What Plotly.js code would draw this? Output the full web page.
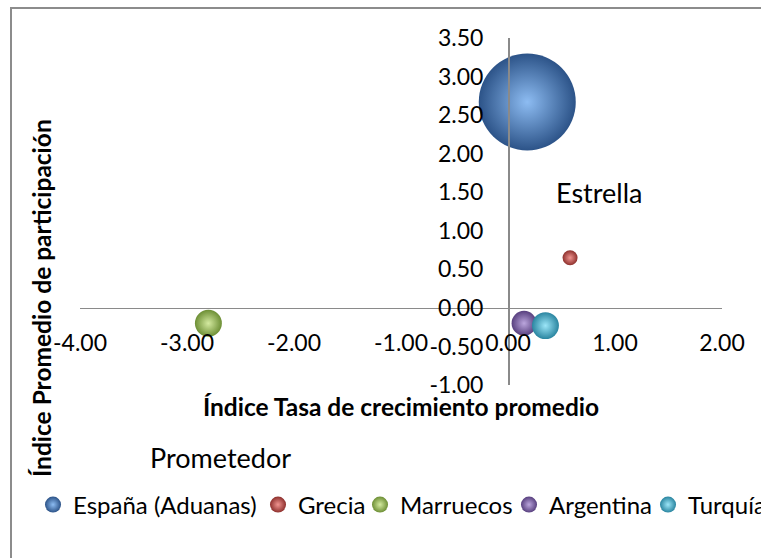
<!DOCTYPE html>
<html>
<head>
<meta charset="utf-8">
<script src="https://cdn.plot.ly/plotly-3.0.1.min.js"></script>
<style>html,body{margin:0;padding:0;background:#fff;}#chart{width:761px;height:558px;}</style>
</head>
<body>
<div id="chart"></div>
<script>
// ---- data ----
var countries = ["España (Aduanas)", "Grecia", "Marruecos", "Argentina", "Turquía"];
var growthIndex = [0.18, 0.58, -2.80, 0.15, 0.35];          // x
var shareIndex = [2.67, 0.65, -0.20, -0.20, -0.23];          // y
var bubbleSize = [1000, 24, 77, 66, 77];
var edgeColors = ["#2c5388", "#8e302d", "#6d8f35", "#58407f", "#2a85a0"];
var centerColors = ["#8dbcf2", "#f09490", "#d4eaa0", "#bba6dd", "#9ce6f8"];
var xTicks = [-4, -3, -2, -1, 0, 1, 2];
var xTickLabels = ["-4.00", "-3.00", "-2.00", "-1.00", "0.00", "1.00", "2.00"];
var yTicks = [-1, -0.5, 0, 0.5, 1, 1.5, 2, 2.5, 3, 3.5];
var yTickLabels = ["-1.00", "-0.50", "0.00", "0.50", "1.00", "1.50", "2.00", "2.50", "3.00", "3.50"];

var xRange = [-4, 2];
var yRange = [-1, 3.5];

var font = "Lato, 'Open Sans', sans-serif";
var sizeref = 0.2126;
var legendIds = ["legend", "legend2", "legend3", "legend4", "legend5"];
var legendLeftPx = [33, 258, 360, 509, 648];

var traces = countries.map(function (c, i) {
  return {
    type: "scatter",
    mode: "markers",
    name: c,
    legend: legendIds[i],
    x: [growthIndex[i]],
    y: [shareIndex[i]],
    cliponaxis: false,
    marker: {
      size: [bubbleSize[i]],
      sizemode: "area",
      sizeref: sizeref,
      opacity: 1,
      color: edgeColors[i],
      gradient: { type: "radial", color: centerColors[i] },
      line: { width: 0 }
    },
    hoverinfo: "name+x+y"
  };
});

var axisGray = "#8a8a8a";
var mL = 80, mR = 39, mT = 38, mB = 173;
var plotW = 761 - mL - mR, plotH = 558 - mT - mB;

var layout = {
  width: 761,
  height: 558,
  margin: { l: mL, r: mR, t: mT, b: mB, pad: 0, autoexpand: false },
  paper_bgcolor: "#ffffff",
  plot_bgcolor: "#ffffff",
  font: { family: font, color: "#000000", size: 23 },
  showlegend: true,
  xaxis: {
    range: xRange,
    anchor: "free",
    position: (0 - yRange[0]) / (yRange[1] - yRange[0]),
    tickvals: xTicks,
    ticktext: xTickLabels,
    ticks: "",
    showgrid: false,
    zeroline: false,
    showline: true,
    linecolor: axisGray,
    linewidth: 1.5,
    ticklabelstandoff: 14,
    tickfont: { family: font, size: 23, color: "#000" },
    title: { text: "<b>Índice Tasa de crecimiento promedio</b>", font: { family: font, size: 24.5, color: "#000" }, standoff: 44 }
  },
  yaxis: {
    range: yRange,
    anchor: "free",
    position: (0 - xRange[0]) / (xRange[1] - xRange[0]),
    tickvals: yTicks,
    ticktext: yTickLabels,
    ticks: "",
    showgrid: false,
    zeroline: false,
    showline: true,
    linecolor: axisGray,
    linewidth: 1.5,
    ticklabelstandoff: 20,
    tickfont: { family: font, size: 23, color: "#000" }
  },
  annotations: [
    { text: "Estrella", x: 0.85, y: 1.5, xref: "x", yref: "y", xanchor: "center", yanchor: "middle", showarrow: false, font: { family: font, size: 27, color: "#000" } },
    { text: "Prometedor", x: (220 - mL) / plotW, y: (558 - mB - 458) / plotH, xref: "paper", yref: "paper", xanchor: "center", yanchor: "middle", showarrow: false, font: { family: font, size: 27, color: "#000" } },
    { text: "<b>Índice Promedio de participación</b>", x: (41 - mL) / plotW, y: (558 - mB - 298) / plotH, xref: "paper", yref: "paper", xanchor: "center", yanchor: "middle", textangle: -90, showarrow: false, font: { family: font, size: 24.5, color: "#000" } }
  ],
  shapes: [
    { type: "rect", xref: "paper", yref: "paper", x0: (11 - mL) / plotW, x1: 1.3, y0: -0.8, y1: (558 - mB - 8) / plotH, line: { color: "#8c8c8c", width: 2 }, fillcolor: "rgba(0,0,0,0)", layer: "below" }
  ]
};

legendIds.forEach(function (id, i) {
  layout[id] = {
    orientation: "h",
    x: (legendLeftPx[i] - mL) / plotW,
    xanchor: "left",
    y: (558 - mB - 505) / plotH,
    yanchor: "middle",
    font: { family: font, size: 24, color: "#000" },
    bgcolor: "rgba(0,0,0,0)",
    borderwidth: 0
  };
});

Plotly.newPlot("chart", traces, layout, { displayModeBar: false, staticPlot: true });
</script>
</body>
</html>
